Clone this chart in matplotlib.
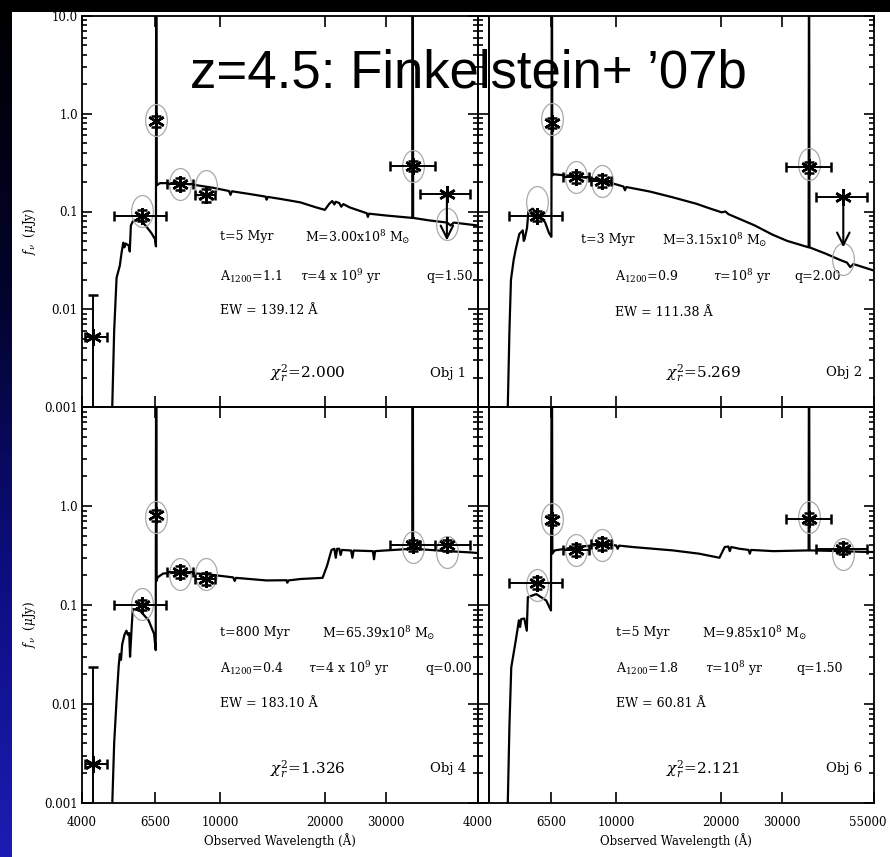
import numpy as np
import matplotlib
matplotlib.use("Agg")
import matplotlib.pyplot as plt
from matplotlib.path import Path
from matplotlib.transforms import Affine2D, ScaledTranslation
from matplotlib.patches import Rectangle
from matplotlib.colors import LinearSegmentedColormap
from matplotlib.ticker import FixedLocator, FixedFormatter, NullFormatter, NullLocator

plt.rcParams['font.family'] = ['DejaVu Serif']
plt.rcParams['mathtext.fontset'] = 'dejavuserif'
plt.rcParams['axes.linewidth'] = 1.3

# ---------------- data ----------------
objects = ["Obj 1", "Obj 2", "Obj 4", "Obj 6"]
ages = ["5", "3", "800", "5"]
masses = ["3.00", "3.15", "65.39", "9.85"]
a1200 = ["1.1", "0.9", "0.4", "1.8"]
taus = [r"4 x 10$^{9}$", r"10$^{8}$", r"4 x 10$^{9}$", r"10$^{8}$"]
q_vals = ["1.50", "2.00", "0.00", "1.50"]
ew_vals = ["139.12", "111.38", "183.10", "60.81"]
chi2_vals = ["2.000", "5.269", "1.326", "2.121"]

xtick_vals = [4000, 6500, 10000, 20000, 30000, 55000]
xtick_labels = ["4000", "6500", "10000", "20000", "30000", "55000"]
ytick_vals = [0.001, 0.01, 0.1, 1.0, 10.0]
ytick_labels = ["0.001", "0.01", "0.1", "1.0", "10.0"]

# bands: B435, V606, NB656, i775, z850, IRAC 3.6, IRAC 4.5
band_wave = np.array([4310, 5940, 6540, 7680, 9100, 35800, 44900])
band_wave_lo = np.array([4080, 4940, 6540, 7040, 8470, 30700, 37500])
band_wave_hi = np.array([4720, 6970, 6540, 8360, 9660, 41500, 52400])

obs_flux = [
    [0.0052, 0.091, 0.835, 0.190, 0.146, 0.294, 0.152],
    [0.0005, 0.090, 0.800, 0.223, 0.206, 0.283, 0.140],
    [0.00247, 0.100, 0.805, 0.215, 0.184, 0.400, 0.400],
    [0.0005, 0.166, 0.720, 0.362, 0.410, 0.746, 0.370],
]
obs_flux_lo = [
    [1e-5, 0.080, 0.74, 0.165, 0.125, 0.26, 0.152],
    [1e-5, 0.080, 0.71, 0.195, 0.180, 0.25, 0.140],
    [1e-5, 0.088, 0.71, 0.188, 0.160, 0.35, 0.350],
    [1e-5, 0.145, 0.64, 0.315, 0.360, 0.66, 0.325],
]
obs_flux_hi = [
    [0.0139, 0.103, 0.94, 0.218, 0.168, 0.33, 0.152],
    [30.0, 0.101, 0.90, 0.255, 0.235, 0.32, 0.140],
    [0.0234, 0.113, 0.91, 0.245, 0.210, 0.45, 0.455],
    [30.0, 0.190, 0.81, 0.415, 0.470, 0.84, 0.420],
]
upper_limit = [
    [False, False, False, False, False, False, True],
    [False, False, False, False, False, False, True],
    [False] * 7,
    [False] * 7,
]
limit_arrow_end = [0.0506, 0.043, np.nan, np.nan]

model_band_flux = [
    [np.nan, 0.102, 0.86, 0.190, 0.184, 0.290, 0.075],
    [np.nan, 0.126, 0.88, 0.223, 0.206, 0.306, 0.033],
    [np.nan, 0.103, 0.77, 0.207, 0.207, 0.385, 0.345],
    [np.nan, 0.158, 0.74, 0.356, 0.404, 0.770, 0.330],
]

sed_wave_obj1 = [4880, 4950, 5030, 5140, 5200, 5260, 5300, 5340, 5450, 5490, 5530, 5600,
                 5750, 5940, 6130, 6340, 6490, 6530, 6540, 6560, 6700, 7650, 8360, 9520,
                 10600, 10700, 10800, 12000, 13500, 13600, 13700, 15000, 17000, 18900,
                 20000, 20600, 21000, 21300, 21500, 22000, 22300, 22600, 23600, 26400,
                 26600, 26800, 30000, 35700, 35800, 35900, 40000, 45000, 46000, 47000, 55000]
sed_flux_obj1 = [0.0008, 0.006, 0.021, 0.028, 0.038, 0.048, 0.043, 0.047, 0.045, 0.039, 0.072, 0.079,
                 0.082, 0.080, 0.070, 0.060, 0.052, 0.044, 200, 0.185, 0.195, 0.195, 0.188, 0.175,
                 0.162, 0.148, 0.161, 0.152, 0.142, 0.132, 0.141, 0.134, 0.124, 0.110,
                 0.104, 0.120, 0.128, 0.118, 0.126, 0.122, 0.112, 0.119, 0.110, 0.096,
                 0.088, 0.095, 0.091, 0.086, 200, 0.086, 0.081, 0.077, 0.072, 0.077, 0.072]

sed_wave_obj2 = [4880, 4940, 4990, 5080, 5150, 5275, 5395, 5430, 5460, 5550, 5600, 5760,
                 6010, 6250, 6420, 6520, 6540, 6560, 6640, 7740, 9050, 10500, 10600, 10700,
                 12500, 14500, 17000, 18500, 20100, 20600, 21000, 22600, 25000, 28100,
                 31000, 35700, 35800, 35900, 40000, 43900, 46000, 47000, 48000, 54700]
sed_flux_obj2 = [0.0008, 0.006, 0.020, 0.032, 0.041, 0.059, 0.064, 0.050, 0.052, 0.068, 0.100, 0.107,
                 0.091, 0.078, 0.060, 0.055, 200, 0.235, 0.240, 0.228, 0.210, 0.180, 0.165, 0.178,
                 0.160, 0.140, 0.120, 0.108, 0.098, 0.100, 0.094, 0.084, 0.072, 0.058,
                 0.050, 0.043, 200, 0.043, 0.037, 0.032, 0.030, 0.027, 0.029, 0.025]

sed_wave_obj4 = [4880, 4950, 5030, 5100, 5140, 5180, 5220, 5300, 5370, 5420, 5470, 5500,
                 5560, 5600, 5870, 6220, 6450, 6520, 6540, 6560, 6600, 6850, 7650, 9100,
                 10900, 11000, 11100, 13600, 15500, 15600, 15700, 17000, 19700, 20300,
                 20900, 21300, 21500, 21700, 22000, 22200, 22400, 23800, 24000, 24200,
                 27500, 27700, 27900, 35700, 35800, 35900, 45000, 52300, 55000]
sed_flux_obj4 = [0.0008, 0.004, 0.011, 0.024, 0.032, 0.028, 0.040, 0.050, 0.055, 0.050, 0.052, 0.030,
                 0.060, 0.091, 0.088, 0.070, 0.051, 0.035, 200, 0.175, 0.190, 0.208, 0.213, 0.205,
                 0.190, 0.175, 0.188, 0.177, 0.178, 0.168, 0.177, 0.183, 0.188, 0.250,
                 0.360, 0.370, 0.300, 0.370, 0.370, 0.320, 0.360, 0.355, 0.300, 0.355,
                 0.350, 0.290, 0.350, 0.370, 200, 0.370, 0.350, 0.340, 0.335]

sed_wave_obj6 = [4880, 4940, 5000, 5150, 5260, 5300, 5340, 5450, 5540, 5580, 5900, 6300,
                 6500, 6540, 6560, 6660, 7700, 9050, 10000, 10100, 10200, 11170, 14550,
                 17300, 19800, 20500, 21000, 21200, 21400, 22600, 24000, 24200, 24400,
                 28300, 35700, 35800, 35900, 45000, 50000, 54700]
sed_flux_obj6 = [0.0008, 0.006, 0.0234, 0.0436, 0.070, 0.060, 0.072, 0.073, 0.055, 0.120, 0.129, 0.111,
                 0.088, 200, 0.330, 0.356, 0.385, 0.408, 0.400, 0.370, 0.398, 0.385, 0.356,
                 0.330, 0.300, 0.385, 0.390, 0.350, 0.385, 0.370, 0.360, 0.330, 0.360,
                 0.350, 0.356, 200, 0.356, 0.350, 0.345, 0.343]

sed_waves = [sed_wave_obj1, sed_wave_obj2, sed_wave_obj4, sed_wave_obj6]
sed_fluxes = [sed_flux_obj1, sed_flux_obj2, sed_flux_obj4, sed_flux_obj6]

# ---------------- layout ----------------
W, H = 890, 857
fig = plt.figure(figsize=(W / 100, H / 100), dpi=100)
fig.patch.set_facecolor('black')

# slide background: blue gradient strip at left, black band at top, white image area
axbg = fig.add_axes([0, 0, 12 / W, 1], zorder=-20)
axbg.axis('off')
cmap_bg = LinearSegmentedColormap.from_list('slide', ['#1c1cb4', '#0d0d80', '#03032a', '#000000'])
axbg.imshow(np.linspace(0, 1, 256).reshape(-1, 1), aspect='auto', cmap=cmap_bg,
            origin='lower', extent=[0, 1, 0, 1])
fig.patches.append(Rectangle((12 / W, 0), 1 - 12 / W, 1 - 12 / H, transform=fig.transFigure,
                             facecolor='white', edgecolor='none', zorder=-10))

x_left = [82, 477.5, 82, 477.5]
x_width = [395.5, 396.5, 395.5, 396.5]
y_top = [16, 16, 407, 407]
y_height = [391, 391, 396, 396]

text_pos = [
    dict(t=(0.349, 0.436), M=(0.564, 0.436), A=(0.349, 0.333), tau=(0.551, 0.333), q=(0.870, 0.333),
         EW=(0.349, 0.248), chi=(0.475, 0.086), obj=(0.880, 0.086)),
    dict(t=(0.262, 0.428), M=(0.466, 0.428), A=(0.348, 0.333), tau=(0.594, 0.333), q=(0.800, 0.333),
         EW=(0.348, 0.242), chi=(0.476, 0.087), obj=(0.880, 0.087)),
    dict(t=(0.349, 0.430), M=(0.607, 0.430), A=(0.349, 0.339), tau=(0.571, 0.339), q=(0.867, 0.339),
         EW=(0.349, 0.251), chi=(0.475, 0.086), obj=(0.880, 0.086)),
    dict(t=(0.350, 0.430), M=(0.565, 0.430), A=(0.350, 0.339), tau=(0.573, 0.339), q=(0.803, 0.339),
         EW=(0.350, 0.251), chi=(0.476, 0.086), obj=(0.880, 0.086)),
]

uc = Path.unit_circle()
ellipse_marker = Path(Affine2D().scale(0.68, 1.0).transform(uc.vertices), uc.codes)
asterisk = (6, 2, 0)

for i in range(4):
    ax = fig.add_axes([x_left[i] / W, 1 - (y_top[i] + y_height[i]) / H,
                       x_width[i] / W, y_height[i] / H])
    ax.set_facecolor('none')
    ax.set_xscale('log')
    ax.set_yscale('log')
    ax.set_xlim(4000, 55000)
    ax.set_ylim(0.001, 10.0)

    # model SED
    ax.plot(sed_waves[i], sed_fluxes[i], color='black', lw=1.6, zorder=3)

    # model band fluxes (circles)
    ax.plot(band_wave, model_band_flux[i], ls='none', marker=ellipse_marker, ms=23,
            mfc='none', mec='#a9a9a9', mew=0.9, zorder=4)

    f = np.array(obs_flux[i])
    flo = np.array(obs_flux_lo[i])
    fhi = np.array(obs_flux_hi[i])
    lim = np.array(upper_limit[i])
    det = ~lim
    xerr = np.vstack([band_wave - band_wave_lo, band_wave_hi - band_wave])
    yerr = np.vstack([f - flo, fhi - f])
    ax.errorbar(band_wave[det], f[det], xerr=xerr[:, det], yerr=yerr[:, det], ls='none',
                marker=asterisk, ms=12, mew=1.8, color='black', ecolor='black',
                elinewidth=1.4, capsize=3.5, capthick=1.4, zorder=5)
    if lim.any():
        ax.errorbar(band_wave[lim], f[lim], xerr=xerr[:, lim], ls='none',
                    marker=asterisk, ms=12, mew=1.8, color='black', ecolor='black',
                    elinewidth=1.4, capsize=3.5, capthick=1.4, zorder=5)
        for w, fv in zip(band_wave[lim], f[lim]):
            ax.annotate('', xy=(w, limit_arrow_end[i]), xytext=(w, fv),
                        arrowprops=dict(arrowstyle='->,head_length=0.9,head_width=0.45',
                                        lw=1.5, color='black', shrinkA=0, shrinkB=0),
                        zorder=5)

    # ticks
    ax.xaxis.set_major_locator(FixedLocator(xtick_vals))
    ax.xaxis.set_minor_locator(NullLocator())
    ax.yaxis.set_major_locator(FixedLocator(ytick_vals))
    ax.yaxis.set_minor_locator(FixedLocator(
        [m * d for d in ytick_vals[:-1] for m in range(2, 10)]))
    ax.tick_params(which='both', direction='in', top=True, right=True, width=1.2,
                   labelsize=8.5, colors='black')
    ax.tick_params(axis='x', which='major', length=8, pad=9)
    ax.tick_params(axis='y', which='major', length=7, pad=3)
    ax.tick_params(axis='y', which='minor', length=3.5)

    if i >= 2:
        labs = list(xtick_labels)
        if i == 2:
            labs[-1] = ''
        ax.xaxis.set_major_formatter(FixedFormatter(labs))
        ax.set_xlabel("Observed Wavelength (Å)", fontsize=8.5)
        ax.xaxis.set_label_coords(0.5, -0.094)
        ax.xaxis.label.set_verticalalignment('center')
        if i == 3:
            last = ax.xaxis.get_majorticklabels()[-1]
            last.set_transform(last.get_transform() +
                               ScaledTranslation(-6 / 100, 0, fig.dpi_scale_trans))
    else:
        ax.xaxis.set_major_formatter(NullFormatter())
    if i in (0, 2):
        labs = list(ytick_labels)
        if i == 2:
            labs[-1] = ''
        ax.yaxis.set_major_formatter(FixedFormatter(labs))
        ax.set_ylabel(r"$f_\nu$  ($\mu$Jy)", fontsize=8.5)
        ax.yaxis.set_label_coords(-0.112, 0.45)
    else:
        ax.yaxis.set_major_formatter(NullFormatter())
    ax.yaxis.set_minor_formatter(NullFormatter())

    # annotations
    p = text_pos[i]
    kw = dict(transform=ax.transAxes, va='center', ha='left', fontsize=9, color='black')
    ax.text(*p['t'], f"t={ages[i]} Myr", **kw)
    ax.text(*p['M'], rf"M={masses[i]}x10$^{{8}}$ M$_{{\odot}}$", **kw)
    ax.text(*p['A'], rf"A$_{{1200}}$={a1200[i]}", **kw)
    ax.text(*p['tau'], rf"$\tau$={taus[i]} yr", **kw)
    ax.text(*p['q'], f"q={q_vals[i]}", **kw)
    ax.text(*p['EW'], f"EW = {ew_vals[i]} Å", **kw)
    ax.text(*p['chi'], rf"$\chi_r^2$={chi2_vals[i]}", transform=ax.transAxes, va='center',
            ha='left', fontsize=11)
    ax.text(*p['obj'], objects[i], transform=ax.transAxes, va='center', ha='left', fontsize=9.5)

fig.text(468.5 / W, 1 - 88 / H, "z=4.5: Finkelstein+ \u201907b", ha='center', va='baseline',
         fontsize=38, family=['Liberation Sans', 'DejaVu Sans'], color='black', zorder=10)

fig.savefig("out.png", dpi=100, facecolor=fig.get_facecolor())
